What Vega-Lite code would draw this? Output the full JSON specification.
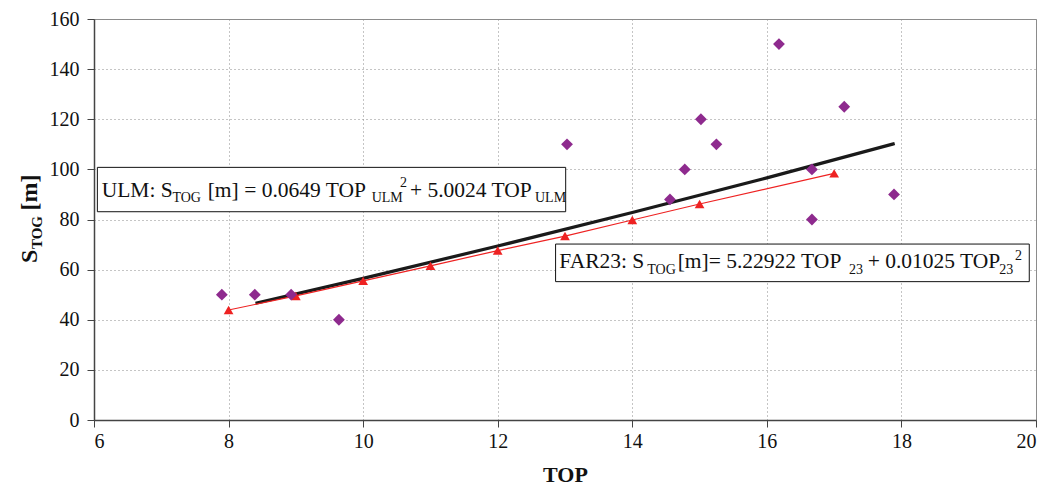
{
  "$schema": "https://vega.github.io/schema/vega-lite/v6.json",
  "width": 942,
  "height": 401,
  "autosize": "none",
  "padding": {"left": 94, "top": 19, "right": 15, "bottom": 66},
  "background": "white",
  "config": {
    "font": "Times New Roman, Liberation Serif, serif",
    "view": {"stroke": "#8c8c8c", "strokeWidth": 1},
    "axis": {
      "labelFont": "Times New Roman, Liberation Serif, serif",
      "labelFontSize": 20,
      "labelColor": "#111",
      "titleFont": "Times New Roman, Liberation Serif, serif",
      "titleColor": "#111",
      "tickColor": "#444",
      "tickSize": 7,
      "domainColor": "#444",
      "domainWidth": 1.5,
      "gridColor": "#8a8a8a",
      "gridDash": [1, 3],
      "gridWidth": 1
    },
    "text": {"font": "Times New Roman, Liberation Serif, serif", "color": "#111"}
  },
  "datasets": {
    "measured": [
      {"TOP": 7.90, "S": 50},
      {"TOP": 8.39, "S": 50},
      {"TOP": 8.93, "S": 50},
      {"TOP": 9.64, "S": 40},
      {"TOP": 13.03, "S": 110},
      {"TOP": 14.56, "S": 88},
      {"TOP": 14.78, "S": 100},
      {"TOP": 15.02, "S": 120},
      {"TOP": 15.25, "S": 110},
      {"TOP": 16.18, "S": 150},
      {"TOP": 16.67, "S": 100},
      {"TOP": 16.67, "S": 80},
      {"TOP": 17.15, "S": 125},
      {"TOP": 17.89, "S": 90}
    ],
    "far23": [
      {"TOP": 8, "S": 43.9},
      {"TOP": 9, "S": 49.5},
      {"TOP": 10, "S": 55.5},
      {"TOP": 11, "S": 61.5},
      {"TOP": 12, "S": 67.6},
      {"TOP": 13, "S": 73.4},
      {"TOP": 14, "S": 79.8},
      {"TOP": 15, "S": 86.2},
      {"TOP": 17, "S": 98.4}
    ],
    "ulm": [
      {"TOP": 8.4, "S": 46.6},
      {"TOP": 10, "S": 56.5},
      {"TOP": 12, "S": 69.4},
      {"TOP": 14, "S": 82.8},
      {"TOP": 16, "S": 96.6},
      {"TOP": 17.9, "S": 110.3}
    ]
  },
  "layer": [
    {
      "data": {"name": "ulm"},
      "mark": {"type": "line", "color": "#1a1a1a", "strokeWidth": 3.2, "interpolate": "monotone"},
      "encoding": {
        "x": {"field": "TOP", "type": "quantitative", "scale": {"domain": [6, 20], "nice": false, "zero": false},
          "axis": {"values": [6, 8, 10, 12, 14, 16, 18, 20], "format": "d", "title": "TOP", "titleFontSize": 22, "titleFontWeight": "bold", "titlePadding": 13, "labelPadding": 4}},
        "y": {"field": "S", "type": "quantitative", "scale": {"domain": [0, 160], "nice": false},
          "axis": {"values": [0, 20, 40, 60, 80, 100, 120, 140, 160], "format": "d", "title": null, "labelPadding": 8}}
      }
    },
    {
      "data": {"name": "far23"},
      "mark": {"type": "line", "color": "#ee2222", "strokeWidth": 1.2},
      "encoding": {
        "x": {"field": "TOP", "type": "quantitative"},
        "y": {"field": "S", "type": "quantitative"}
      }
    },
    {
      "data": {"name": "far23"},
      "mark": {"type": "point", "shape": "triangle-up", "filled": true, "color": "#ee2222", "size": 95, "opacity": 1},
      "encoding": {
        "x": {"field": "TOP", "type": "quantitative"},
        "y": {"field": "S", "type": "quantitative"}
      }
    },
    {
      "data": {"name": "measured"},
      "mark": {"type": "point", "shape": "diamond", "filled": true, "color": "#8e2a8e", "size": 140, "opacity": 1},
      "encoding": {
        "x": {"field": "TOP", "type": "quantitative"},
        "y": {"field": "S", "type": "quantitative"}
      }
    },
    {
      "data": {"values": [{}]},
      "mark": {"type": "rect", "fill": "white", "stroke": "#111", "strokeWidth": 1},
      "encoding": {"x": {"datum": 6.05}, "x2": {"datum": 13.01}, "y": {"datum": 83.1}, "y2": {"datum": 100.8}}
    },
    {
      "data": {"values": [{}]},
      "mark": {"type": "rect", "fill": "white", "stroke": "#111", "strokeWidth": 1},
      "encoding": {"x": {"datum": 12.86}, "x2": {"datum": 19.9}, "y": {"datum": 55.2}, "y2": {"datum": 70.2}}
    },
    {"data": {"values": [{}]}, "mark": {"type": "text", "text": "ULM: S", "fontSize": 21.5, "align": "left", "baseline": "alphabetic"}, "encoding": {"x": {"datum": 6.114}, "y": {"datum": 89.1}}},
    {"data": {"values": [{}]}, "mark": {"type": "text", "text": "TOG", "fontSize": 14, "align": "left", "baseline": "alphabetic"}, "encoding": {"x": {"datum": 7.165}, "y": {"datum": 86.9}}},
    {"data": {"values": [{}]}, "mark": {"type": "text", "text": "[m] = 0.0649 TOP", "fontSize": 21.5, "align": "left", "baseline": "alphabetic"}, "encoding": {"x": {"datum": 7.69}, "y": {"datum": 89.1}}},
    {"data": {"values": [{}]}, "mark": {"type": "text", "text": "ULM", "fontSize": 14, "align": "left", "baseline": "alphabetic"}, "encoding": {"x": {"datum": 10.127}, "y": {"datum": 86.9}}},
    {"data": {"values": [{}]}, "mark": {"type": "text", "text": "2", "fontSize": 14, "align": "left", "baseline": "alphabetic"}, "encoding": {"x": {"datum": 10.548}, "y": {"datum": 93.1}}},
    {"data": {"values": [{}]}, "mark": {"type": "text", "text": "+ 5.0024 TOP", "fontSize": 21.5, "align": "left", "baseline": "alphabetic"}, "encoding": {"x": {"datum": 10.696}, "y": {"datum": 89.1}}},
    {"data": {"values": [{}]}, "mark": {"type": "text", "text": "ULM", "fontSize": 14, "align": "left", "baseline": "alphabetic"}, "encoding": {"x": {"datum": 12.554}, "y": {"datum": 86.9}}},
    {"data": {"values": [{}]}, "mark": {"type": "text", "text": "FAR23: S", "fontSize": 21.5, "align": "left", "baseline": "alphabetic"}, "encoding": {"x": {"datum": 12.915}, "y": {"datum": 60.5}}},
    {"data": {"values": [{}]}, "mark": {"type": "text", "text": "TOG", "fontSize": 14, "align": "left", "baseline": "alphabetic"}, "encoding": {"x": {"datum": 14.223}, "y": {"datum": 58.1}}},
    {"data": {"values": [{}]}, "mark": {"type": "text", "text": "[m]= 5.22922 TOP", "fontSize": 21.5, "align": "left", "baseline": "alphabetic"}, "encoding": {"x": {"datum": 14.675}, "y": {"datum": 60.5}}},
    {"data": {"values": [{}]}, "mark": {"type": "text", "text": "23", "fontSize": 14, "align": "left", "baseline": "alphabetic"}, "encoding": {"x": {"datum": 17.22}, "y": {"datum": 58.1}}},
    {"data": {"values": [{}]}, "mark": {"type": "text", "text": "+ 0.01025 TOP", "fontSize": 21.5, "align": "left", "baseline": "alphabetic"}, "encoding": {"x": {"datum": 17.498}, "y": {"datum": 60.5}}},
    {"data": {"values": [{}]}, "mark": {"type": "text", "text": "23", "fontSize": 14, "align": "left", "baseline": "alphabetic"}, "encoding": {"x": {"datum": 19.454}, "y": {"datum": 58.1}}},
    {"data": {"values": [{}]}, "mark": {"type": "text", "text": "2", "fontSize": 14, "align": "left", "baseline": "alphabetic"}, "encoding": {"x": {"datum": 19.687}, "y": {"datum": 63.8}}},
    {"data": {"values": [{}]}, "mark": {"type": "text", "text": "S", "fontSize": 24, "fontWeight": "bold", "angle": 270, "align": "left", "baseline": "alphabetic"}, "encoding": {"x": {"datum": 5.153}, "y": {"datum": 62.65}}},
    {"data": {"values": [{}]}, "mark": {"type": "text", "text": "TOG", "fontSize": 15, "fontWeight": "bold", "angle": 270, "align": "left", "baseline": "alphabetic"}, "encoding": {"x": {"datum": 5.227}, "y": {"datum": 68.2}}},
    {"data": {"values": [{}]}, "mark": {"type": "text", "text": "[m]", "fontSize": 24, "fontWeight": "bold", "angle": 270, "align": "left", "baseline": "alphabetic"}, "encoding": {"x": {"datum": 5.153}, "y": {"datum": 83.6}}}
  ]
}
